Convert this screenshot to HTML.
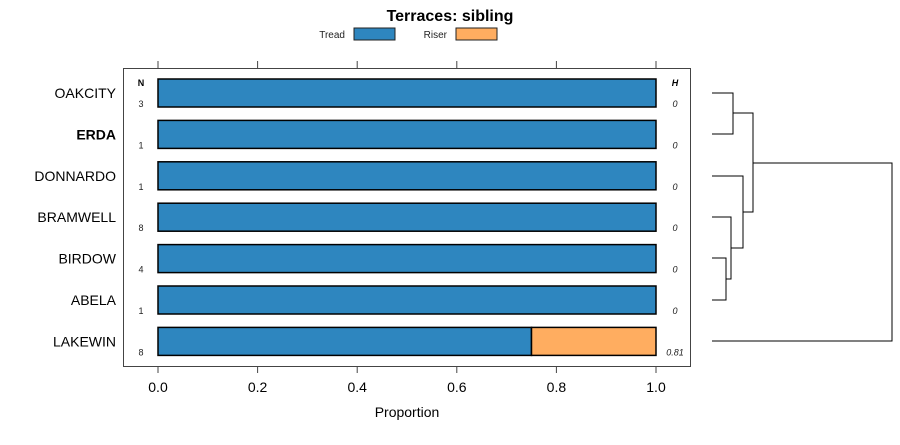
<!DOCTYPE html>
<html><head><meta charset="utf-8"><style>
body{margin:0;background:#fff}
svg{font-family:"Liberation Sans",sans-serif}
</style></head><body>
<svg id="chart" width="900" height="440" xmlns="http://www.w3.org/2000/svg">
<text x="450" y="21" text-anchor="middle" font-size="16" font-weight="bold">Terraces: sibling</text>
<g font-size="10" fill="#222">
 <g><text x="345" y="38" text-anchor="end">Tread</text><rect x="354" y="28" width="41" height="12" fill="#2e86bf" stroke="#222"/></g>
 <g><text x="447" y="38" text-anchor="end">Riser</text><rect x="456" y="28" width="41" height="12" fill="#ffad60" stroke="#222"/></g>
</g>
<rect x="123.5" y="68.5" width="567" height="298" fill="none" stroke="#444"/>
<g id="marks"></g>
<text x="141" y="86" text-anchor="middle" font-size="9" font-weight="bold">N</text>
<text x="675" y="86" text-anchor="middle" font-size="9" font-weight="bold" font-style="italic">H</text>
<text x="407" y="417" text-anchor="middle" font-size="14">Proportion</text>
<g id="dendro" fill="none" stroke="#000" stroke-width="1"></g>
</svg>
<script>
const categories=["OAKCITY","ERDA","DONNARDO","BRAMWELL","BIRDOW","ABELA","LAKEWIN"];
const tread=[1,1,1,1,1,1,0.75];
const riser=[0,0,0,0,0,0,0.25];
const counts=["3","1","1","8","4","1","8"];
const hvals=["0","0","0","0","0","0","0.81"];
const bold=[false,true,false,false,false,false,false];
const ticks=[0,0.2,0.4,0.6,0.8,1.0];
const tickLabels=["0.0","0.2","0.4","0.6","0.8","1.0"];
const NS="http://www.w3.org/2000/svg";
const x=v=>158+v*498;
const y=i=>93+i*41.4;
const g=document.getElementById('marks');
function el(t,a,p){const e=document.createElementNS(NS,t);for(const k in a)e.setAttribute(k,a[k]);(p||g).appendChild(e);return e;}
ticks.forEach((t,i)=>{
 const a=el('line',{x1:x(t),x2:x(t),y1:61,y2:68,stroke:'#444'});
 
 
 const b=el('line',{x1:x(t),x2:x(t),y1:366,y2:373,stroke:'#444'});
 
 
 const l=el('text',{x:x(t),y:392,'text-anchor':'middle','font-size':14});
 l.textContent=tickLabels[i];
 
 
});
categories.forEach((c,i)=>{
 const cy=y(i);
 const lab=el('text',{x:116,y:cy+5,'text-anchor':'end','font-size':14,'font-weight':bold[i]?'bold':'normal'});
 lab.textContent=c;
 
 
 const r1=el('rect',{x:x(0),y:cy-14,width:x(tread[i])-x(0),height:28,fill:'#2e86bf',stroke:'#000','stroke-width':1.5});
 
 
 if(riser[i]>0){
  const r2=el('rect',{x:x(tread[i]),y:cy-14,width:x(tread[i]+riser[i])-x(tread[i]),height:28,fill:'#ffad60',stroke:'#000','stroke-width':1.5});
  
  
 }
 const n=el('text',{x:141,y:cy+14,'text-anchor':'middle','font-size':9,fill:'#222'});
 n.textContent=counts[i];
 
 
 const h=el('text',{x:675,y:cy+14,'text-anchor':'middle','font-size':9,'font-style':'italic',fill:'#222'});
 h.textContent=hvals[i];
 
 
});
const d=document.getElementById('dendro');
const paths=["M712 93H733V134H712","M712 258H726V300H712","M726 279H731V217H712","M731 248H743V176H712","M733 113H753V212H743","M753 163H892V341H712"];
paths.forEach(p=>{const e=el('path',{d:p},d);
 
 });
</script>
</body></html>
